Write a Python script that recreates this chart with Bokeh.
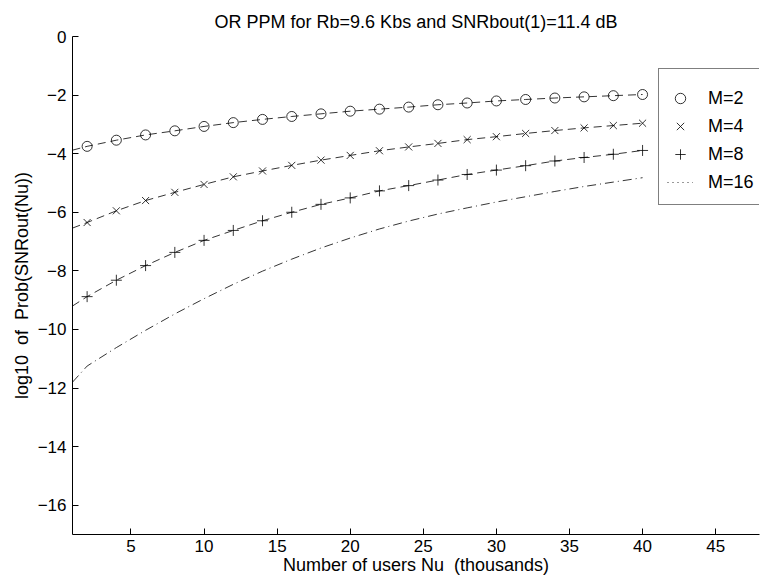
from bokeh.plotting import figure
from bokeh.models import Range1d, FixedTicker, Legend, LegendItem
from bokeh.embed import file_html
from bokeh.resources import INLINE

# ---- data ----
# number of users Nu (thousands) at the marker positions
nu = [2, 4, 6, 8, 10, 12, 14, 16, 18, 20, 22, 24, 26, 28, 30, 32, 34, 36, 38, 40]
nu_start = 1  # curves start at the left edge of the axes

m2 = [-3.75, -3.54, -3.36, -3.22, -3.07, -2.94, -2.83, -2.73, -2.64, -2.55,
      -2.48, -2.41, -2.33, -2.27, -2.20, -2.15, -2.10, -2.06, -2.02, -1.98]
m2_start = -3.88

m4 = [-6.35, -5.95, -5.60, -5.32, -5.05, -4.79, -4.59, -4.40, -4.22, -4.06,
      -3.90, -3.77, -3.65, -3.52, -3.42, -3.31, -3.21, -3.12, -3.04, -2.96]
m4_start = -6.54

m8 = [-8.88, -8.32, -7.82, -7.37, -6.96, -6.62, -6.29, -6.00, -5.73, -5.51,
      -5.27, -5.09, -4.90, -4.71, -4.56, -4.41, -4.25, -4.13, -4.02, -3.89]
m8_start = -9.20

m16 = [-11.25, -10.62, -10.03, -9.47, -8.95, -8.46, -8.01, -7.60, -7.22, -6.88,
       -6.57, -6.30, -6.06, -5.85, -5.65, -5.47, -5.29, -5.12, -4.97, -4.82]
m16_start = -11.80

series_labels = ["M=2", "M=4", "M=8", "M=16"]

x_ticks = [5, 10, 15, 20, 25, 30, 35, 40, 45]
y_ticks = [-16, -14, -12, -10, -8, -6, -4, -2, 0]
y_tick_labels = ["\u221216", "\u221214", "\u221212", "\u221210", "\u22128",
                 "\u22126", "\u22124", "\u22122", "0"]

title_text = "OR PPM for Rb=9.6 Kbs and SNRbout(1)=11.4 dB"
x_label = "Number of users Nu \u00a0(thousands)"
y_label = "log10 \u00a0of \u00a0Prob(SNRout(Nu))"

FONT = "Liberation Sans"

p = figure(width=764, height=582,
           x_range=Range1d(1, 48), y_range=Range1d(-17, 0),
           output_backend="svg", toolbar_location=None,
           min_border_left=72, min_border_right=5,
           min_border_top=36, min_border_bottom=48,
           title=title_text, x_axis_label=x_label, y_axis_label=y_label)

p.outline_line_color = None
p.xgrid.visible = False
p.ygrid.visible = False
p.background_fill_color = "white"
p.border_fill_color = "white"

p.title.align = "center"
p.title.text_font = FONT
p.title.text_font_size = "18px"
p.title.text_font_style = "normal"
p.title.text_color = "black"

for ax in (p.xaxis[0], p.yaxis[0]):
    ax.axis_line_color = "black"
    ax.axis_line_width = 1
    ax.major_tick_in = 6
    ax.major_tick_out = 0
    ax.major_tick_line_color = "black"
    ax.minor_tick_line_color = None
    ax.major_label_text_font = FONT
    ax.major_label_text_font_size = "17px"
    ax.major_label_text_color = "black"
    ax.axis_label_text_font = FONT
    ax.axis_label_text_font_size = "18px"
    ax.axis_label_text_font_style = "normal"
    ax.axis_label_text_color = "black"

p.xaxis.ticker = FixedTicker(ticks=x_ticks)
p.yaxis.ticker = FixedTicker(ticks=y_ticks)
p.yaxis.major_label_overrides = {t: lab for t, lab in zip(y_ticks, y_tick_labels)}
p.xaxis.major_label_standoff = 5
p.yaxis.major_label_standoff = 6
p.xaxis.axis_label_standoff = 0
p.yaxis.axis_label_standoff = 3

# curves
line_kw = dict(line_color="black", line_width=0.8)
p.line([nu_start] + nu, [m2_start] + m2, line_dash="8 5", **line_kw)
p.line([nu_start] + nu, [m4_start] + m4, line_dash="8 5", **line_kw)
p.line([nu_start] + nu, [m8_start] + m8, line_dash="8 5", **line_kw)
p.line([nu_start] + nu, [m16_start] + m16, line_dash="9 4 1 4", **line_kw)

mk_kw = dict(line_color="black", line_width=0.8, fill_color=None)
r2 = p.scatter(nu, m2, marker="circle", size=10, **mk_kw)
r4 = p.scatter(nu, m4, marker="x", size=10, **mk_kw)
r8 = p.scatter(nu, m8, marker="cross", size=11, **mk_kw)
# legend proxy for M=16 (dotted in the reference legend); a single point draws nothing
r16 = p.line(x=[nu[0]], y=[m16[0]], line_color="black", line_width=0.8, line_dash="1 4")

legend = Legend(
    items=[LegendItem(label=series_labels[0], renderers=[r2]),
           LegendItem(label=series_labels[1], renderers=[r4]),
           LegendItem(label=series_labels[2], renderers=[r8]),
           LegendItem(label=series_labels[3], renderers=[r16])],
    title=" ", title_text_font_size="6px", title_standoff=1,
    location=(586, 329),
    padding=8, spacing=0, margin=0,
    glyph_width=26, glyph_height=28, label_height=28, label_width=60,
    label_standoff=15,
    label_text_font=FONT, label_text_font_size="18px", label_text_color="black",
    border_line_color="black", border_line_width=1.5,
    background_fill_color="white", background_fill_alpha=1.0,
)
p.add_layout(legend)

open("out.html", "w").write(file_html(p, INLINE))
